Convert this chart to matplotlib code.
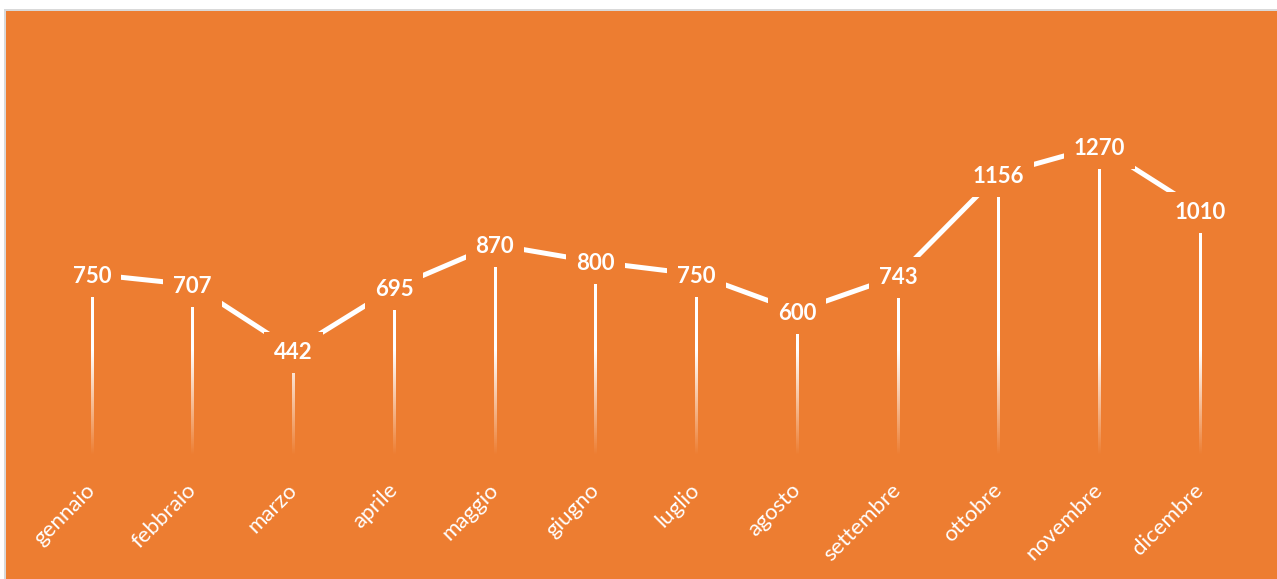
import matplotlib.pyplot as plt
import numpy as np
from matplotlib.patches import Rectangle

# Dati mensili
months = ["gennaio", "febbraio", "marzo", "aprile", "maggio", "giugno",
          "luglio", "agosto", "settembre", "ottobre", "novembre", "dicembre"]
values = [750, 707, 442, 695, 870, 800, 750, 600, 743, 1156, 1270, 1010]

orange = "#ED7D31"
W, H = 1277, 579

fig = plt.figure(figsize=(W / 100, H / 100), dpi=100)
fig.patch.set_facecolor("white")

# Orange chart area with light grey border
fig.patches.append(Rectangle((4 / W, 0), 1, 1 - 9 / H, transform=fig.transFigure,
                             facecolor="#d9d9d9", edgecolor="none", zorder=0))
fig.patches.append(Rectangle((6 / W, 0), 1, 1 - 11 / H, transform=fig.transFigure,
                             facecolor=orange, edgecolor="none", zorder=0))

ax = fig.add_axes([41.6 / W, (H - 459) / H, 1208.8 / W, 439 / H])
ax.set_zorder(5)
ax.set_facecolor("none")
x = np.arange(len(months))

# Drop lines fading towards the bottom (vertical gradient)
for xi, v in zip(x, values):
    ys = np.linspace(v, 0, 200)
    alpha = np.clip((ys - 15) / 420, 0, 1)
    img = np.ones((len(ys), 1, 4))
    img[:, 0, 3] = alpha
    ax.imshow(img, extent=(xi - 0.012, xi + 0.012, 0, v), aspect="auto",
              interpolation="bilinear", zorder=1)

ax.plot(x, values, color="white", linewidth=3.6, solid_capstyle="butt", zorder=2)

for xi, v in zip(x, values):
    ax.text(xi, v, str(v), color="white", fontsize=16, fontweight="bold",
            family=["Lato", "DejaVu Sans"], ha="center", va="center_baseline", zorder=3,
            bbox=dict(facecolor=orange, edgecolor="none", boxstyle="square,pad=0.45"))

ax.set_xlim(-0.5, 11.5)
ax.set_ylim(0, 1782)
ax.set_xticks(x)
ax.set_xticklabels(months, rotation=45, ha="right", va="center", rotation_mode="anchor",
                   color="white", fontsize=16, family=["Lato", "DejaVu Sans"])
ax.tick_params(axis="x", length=0, pad=20)
ax.set_yticks([])
for s in ax.spines.values():
    s.set_visible(False)

plt.savefig("out.png", dpi=100, facecolor=fig.get_facecolor())
